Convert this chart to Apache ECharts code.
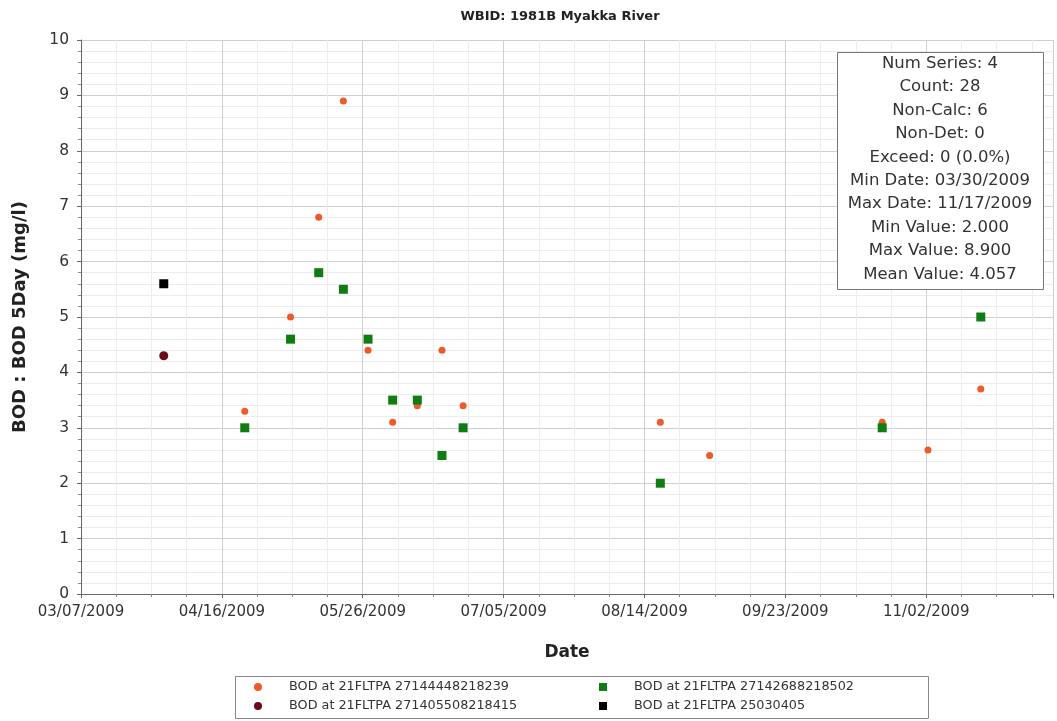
<!DOCTYPE html>
<html>
<head>
<meta charset="utf-8">
<title>WBID: 1981B Myakka River</title>
<script src="https://cdn.jsdelivr.net/npm/echarts@6/dist/echarts.min.js"></script>
<style>
  html, body { margin: 0; padding: 0; background: #ffffff; }
  #chart { width: 1057px; height: 721px; }
</style>
</head>
<body>
<div id="chart"></div>
<script>
// Station series: BOD 5-day samples, Myakka River (WBID 1981B), 2009
const chartTitle = 'WBID: 1981B Myakka River';
const xAxisTitle = 'Date';
const yAxisTitle = 'BOD : BOD 5Day (mg/l)';

const seriesNames = [
  'BOD at 21FLTPA 27144448218239',
  'BOD at 21FLTPA 27142688218502',
  'BOD at 21FLTPA 271405508218415',
  'BOD at 21FLTPA 25030405'
];

const datesA = ['04/22/2009', '05/05/2009', '05/13/2009', '05/20/2009', '05/27/2009', '06/03/2009', '06/10/2009',
                '06/17/2009', '06/23/2009', '08/18/2009', '09/01/2009', '10/20/2009', '11/02/2009', '11/17/2009'];
const valuesA = [3.3, 5.0, 6.8, 8.9, 4.4, 3.1, 3.4, 4.4, 3.4, 3.1, 2.5, 3.1, 2.6, 3.7];

const datesB = ['04/22/2009', '05/05/2009', '05/13/2009', '05/20/2009', '05/27/2009', '06/03/2009', '06/10/2009',
                '06/17/2009', '06/23/2009', '08/18/2009', '10/20/2009', '11/17/2009'];
const valuesB = [3.0, 4.6, 5.8, 5.5, 4.6, 3.5, 3.5, 2.5, 3.0, 2.0, 3.0, 5.0];

const datesC = ['03/30/2009'];
const valuesC = [4.3];

const datesD = ['03/30/2009'];
const valuesD = [5.6];

// Date axis: ticks every 40 days starting 03/07/2009
const axisStartDate = '03/07/2009';
const axisEndDate = '12/08/2009';
const tickStepDays = 40;
// samples are logged around midday
const sampleHour = 12;

// Value axis
const yMin = 0;
const yMax = 10;
const yStep = 1;

// Fixed summary fields
const nonCalcCount = 6;
const nonDetCount = 0;
const exceedCount = 0;

const DAY_MS = 86400000;
function parseDate(s) {
  const [m, d, y] = s.split('/').map(Number);
  return Date.UTC(y, m - 1, d);
}
const originMs = parseDate(axisStartDate);
function toDay(s) { return Math.round((parseDate(s) - originMs) / DAY_MS); }
function pad(n) { return (n < 10 ? '0' : '') + n; }
function dayLabel(day) {
  const dt = new Date(originMs + Math.floor(day + 1e-6) * DAY_MS);
  return pad(dt.getUTCMonth() + 1) + '/' + pad(dt.getUTCDate()) + '/' + dt.getUTCFullYear();
}
function pairs(dates, values) { return dates.map((d, i) => [toDay(d) + sampleHour / 24, values[i]]); }

// Summary statistics derived from the plotted samples
const allDates = [].concat(datesA, datesB, datesC, datesD);
const allValues = [].concat(valuesA, valuesB, valuesC, valuesD);
const allDays = allDates.map(toDay);
const count = allValues.length;
const minVal = Math.min.apply(null, allValues);
const maxVal = Math.max.apply(null, allValues);
const meanVal = allValues.reduce((a, b) => a + b, 0) / count;
const minDate = dayLabel(Math.min.apply(null, allDays));
const maxDate = dayLabel(Math.max.apply(null, allDays));
const statsLines = [
  'Num Series: ' + seriesNames.length,
  'Count: ' + count,
  'Non-Calc: ' + nonCalcCount,
  'Non-Det: ' + nonDetCount,
  'Exceed: ' + exceedCount + ' (' + (100 * exceedCount / count).toFixed(1) + '%)',
  'Min Date: ' + minDate,
  'Max Date: ' + maxDate,
  'Min Value: ' + minVal.toFixed(3),
  'Max Value: ' + maxVal.toFixed(3),
  'Mean Value: ' + meanVal.toFixed(3)
];

const FONT = '"DejaVu Sans", Tahoma, Verdana, sans-serif';
const colors = ['#ee5a2a', '#0f7d12', '#6e0a16', '#000000'];
const icons = ['circle', 'rect', 'circle', 'rect'];

const chart = echarts.init(document.getElementById('chart'), null, { renderer: 'canvas' });

const axisLineStyle = { color: '#666666', width: 1 };
const splitLineStyle = { color: '#d0d0d0', width: 1 };
const minorSplitStyle = { color: '#ededed', width: 1 };

// one legend block per entry, arranged in two columns
const legendSlots = [[254, 680], [599, 680], [254, 699], [599, 699]];
const legends = seriesNames.map((name, i) => ({
  orient: 'horizontal',
  left: legendSlots[i][0],
  top: legendSlots[i][1],
  itemWidth: 8,
  itemHeight: 8,
  selectedMode: false,
  padding: 0,
  data: [{ name: name, icon: icons[i] }],
  textStyle: { fontFamily: FONT, fontSize: 12.8, color: '#333333', lineHeight: 14, padding: [0, 0, 0, 22] }
}));

chart.setOption({
  animation: false,
  backgroundColor: '#ffffff',
  title: {
    text: chartTitle,
    left: 555,
    top: 5,
    textAlign: 'center',
    textStyle: { fontFamily: FONT, fontSize: 13, fontWeight: 'bold', color: '#222222' }
  },
  grid: { left: 81, right: 4, top: 40, bottom: 127, containLabel: false },
  xAxis: {
    type: 'value',
    min: 0,
    max: toDay(axisEndDate),
    interval: tickStepDays,
    name: xAxisTitle,
    nameLocation: 'middle',
    nameGap: 50,
    nameTextStyle: { fontFamily: FONT, fontSize: 17, fontWeight: 'bold', color: '#222222' },
    axisLine: { show: true, lineStyle: axisLineStyle },
    axisTick: { show: true, length: 4, lineStyle: { color: '#666666' } },
    minorTick: { show: true, splitNumber: 4, length: 3, lineStyle: { color: '#888888' } },
    axisLabel: {
      show: true, margin: 11, showMaxLabel: false, showMinLabel: true,
      fontFamily: FONT, fontSize: 15, color: '#333333',
      formatter: v => dayLabel(v)
    },
    splitLine: { show: true, lineStyle: splitLineStyle },
    minorSplitLine: { show: true, lineStyle: minorSplitStyle }
  },
  yAxis: {
    type: 'value',
    min: yMin,
    max: yMax,
    interval: yStep,
    name: yAxisTitle,
    nameLocation: 'middle',
    nameGap: 52,
    nameTextStyle: { fontFamily: FONT, fontSize: 18, fontWeight: 'bold', color: '#222222' },
    axisLine: { show: true, lineStyle: axisLineStyle },
    axisTick: { show: true, length: 4, lineStyle: { color: '#666666' } },
    minorTick: { show: true, splitNumber: 5, length: 3, lineStyle: { color: '#888888' } },
    axisLabel: { show: true, margin: 12, fontFamily: FONT, fontSize: 15.5, color: '#333333' },
    splitLine: { show: true, lineStyle: splitLineStyle },
    minorSplitLine: { show: true, lineStyle: minorSplitStyle }
  },
  legend: legends,
  series: [
    { name: seriesNames[0], type: 'scatter', symbol: icons[0], symbolSize: 7, z: 3,
      itemStyle: { color: colors[0], opacity: 1 }, data: pairs(datesA, valuesA) },
    { name: seriesNames[1], type: 'scatter', symbol: icons[1], symbolSize: 9, z: 4,
      itemStyle: { color: colors[1], opacity: 1 }, data: pairs(datesB, valuesB) },
    { name: seriesNames[2], type: 'scatter', symbol: icons[2], symbolSize: 9, z: 3,
      itemStyle: { color: colors[2], opacity: 1 }, data: pairs(datesC, valuesC) },
    { name: seriesNames[3], type: 'scatter', symbol: icons[3], symbolSize: 9, z: 3,
      itemStyle: { color: colors[3], opacity: 1 }, data: pairs(datesD, valuesD) }
  ],
  graphic: [
    // summary box
    { type: 'rect', left: 837, top: 52, z: 10,
      shape: { width: 206, height: 237 },
      style: { fill: '#ffffff', stroke: '#777777', lineWidth: 1 } },
    { type: 'text', z: 11, x: 940, y: 52,
      style: { text: statsLines.join('\n'), fontFamily: FONT, fontSize: 16.5, lineHeight: 23.4,
               fill: '#333333', align: 'center', verticalAlign: 'top' } },
    // legend frame
    { type: 'rect', left: 233, top: 674, z: 0,
      shape: { width: 693, height: 42 },
      style: { fill: 'none', stroke: '#888888', lineWidth: 1 } }
  ]
});
</script>
</body>
</html>
